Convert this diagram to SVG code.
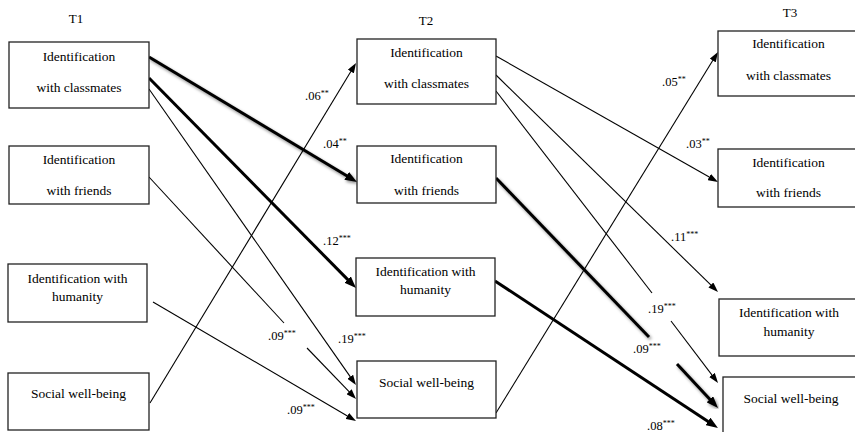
<svg xmlns="http://www.w3.org/2000/svg" width="855" height="432" viewBox="0 0 855 432">
<style>
  text { font-family: "Liberation Serif", "Times New Roman", serif; fill: #000; }
  .nt { font-size: 13.5px; text-anchor: middle; }
  .tl { font-size: 13px; text-anchor: middle; }
  .lb { font-size: 12.5px; }
  .sup { font-size: 8px; }
  .box { fill: #fff; stroke: #222; stroke-width: 1.3; }
  .thin { stroke: #000; stroke-width: 1.1; fill: none; }
  .thick { stroke: #000; stroke-width: 3; fill: none; }
  .ta { marker-end: url(#ah); }
  .ka { marker-end: url(#ahk); }
  .sh { filter: url(#shadow); }
</style>
<defs>
  <marker id="ah" markerUnits="userSpaceOnUse" markerWidth="10" markerHeight="7" refX="2" refY="3.5" orient="auto">
    <path d="M0,0 L10,3.5 L0,7 z" fill="#000"/>
  </marker>
  <marker id="ahk" markerUnits="userSpaceOnUse" markerWidth="12" markerHeight="9" refX="2" refY="4.5" orient="auto">
    <path d="M0,0 L12,4.5 L0,9 z" fill="#000"/>
  </marker>
  <filter id="shadow" x="-10%" y="-10%" width="130%" height="130%">
    <feDropShadow dx="1.5" dy="2" stdDeviation="1.4" flood-color="#000" flood-opacity="0.45"/>
  </filter>
</defs>
<rect width="855" height="432" fill="#fff"/>

<g id="time-labels">
  <text class="tl" x="76" y="23">T1</text>
  <text class="tl" x="426" y="25">T2</text>
  <text class="tl" x="790" y="17">T3</text>
</g>

<g id="connectors">
  <!-- T1 -> T2 -->
  <line class="thick ka sh" x1="149" y1="57" x2="348.4" y2="176.8"/>
  <line class="thick ka" x1="149" y1="78" x2="349" y2="280.9"/>
  <line class="thin ta" x1="149" y1="89" x2="351.4" y2="378.4"/>
  <line class="thin" x1="149" y1="177" x2="284" y2="323"/>
  <line class="thin ta" x1="307" y1="348" x2="350.5" y2="393.2"/>
  <line class="thin ta" x1="153" y1="302" x2="349.1" y2="417"/>
  <line class="thin ta" x1="150" y1="403" x2="351.9" y2="69.8"/>
  <!-- T2 -> T3 -->
  <line class="thin ta" x1="496" y1="56" x2="711" y2="178"/>
  <line class="thin ta" x1="496" y1="75" x2="712.3" y2="286.4"/>
  <line class="thin" x1="496" y1="91" x2="652" y2="293"/>
  <line class="thin ta" x1="671" y1="321" x2="713.2" y2="376.6"/>
  <line class="thick sh" x1="496" y1="178" x2="649" y2="337"/>
  <line class="thick ka sh" x1="677" y1="364" x2="711.2" y2="400.7"/>
  <line class="thick ka" x1="495" y1="281" x2="709.6" y2="422.5"/>
  <line class="thin ta" x1="496" y1="413" x2="713.8" y2="58.8"/>
</g>

<g id="coef-labels">
  <text class="lb" x="305" y="100">.06<tspan class="sup" dy="-4">**</tspan></text>
  <text class="lb" x="323" y="148">.04<tspan class="sup" dy="-4">**</tspan></text>
  <text class="lb" x="323" y="245">.12<tspan class="sup" dy="-4">***</tspan></text>
  <text class="lb" x="338" y="343">.19<tspan class="sup" dy="-4">***</tspan></text>
  <text class="lb" x="268" y="340">.09<tspan class="sup" dy="-4">***</tspan></text>
  <text class="lb" x="287" y="414">.09<tspan class="sup" dy="-4">***</tspan></text>
  <text class="lb" x="662" y="86">.05<tspan class="sup" dy="-4">**</tspan></text>
  <text class="lb" x="686" y="148">.03<tspan class="sup" dy="-4">**</tspan></text>
  <text class="lb" x="671" y="241">.11<tspan class="sup" dy="-4">***</tspan></text>
  <text class="lb" x="648" y="313">.19<tspan class="sup" dy="-4">***</tspan></text>
  <text class="lb" x="633" y="353">.09<tspan class="sup" dy="-4">***</tspan></text>
  <text class="lb" x="647" y="430">.08<tspan class="sup" dy="-4">***</tspan></text>
</g>

<g id="t1-classmates">
  <rect class="box" x="9" y="42" width="140" height="66"/>
  <text class="nt" x="79" y="61">Identification</text>
  <text class="nt" x="79" y="92">with classmates</text>
</g>
<g id="t1-friends">
  <rect class="box" x="9" y="146" width="140" height="58"/>
  <text class="nt" x="79" y="164">Identification</text>
  <text class="nt" x="79" y="195">with friends</text>
</g>
<g id="t1-humanity">
  <rect class="box" x="8" y="264" width="139" height="58"/>
  <text class="nt" x="77.5" y="283">Identification with</text>
  <text class="nt" x="77.5" y="301">humanity</text>
</g>
<g id="t1-wellbeing">
  <rect class="box" x="8" y="373" width="141" height="57"/>
  <text class="nt" x="78.5" y="398">Social well-being</text>
</g>

<g id="t2-classmates">
  <rect class="box" x="357" y="39" width="139" height="65"/>
  <text class="nt" x="426.5" y="57">Identification</text>
  <text class="nt" x="426.5" y="88">with classmates</text>
</g>
<g id="t2-friends">
  <rect class="box" x="357" y="146" width="139" height="57"/>
  <text class="nt" x="426.5" y="163">Identification</text>
  <text class="nt" x="426.5" y="195">with friends</text>
</g>
<g id="t2-humanity">
  <rect class="box" x="356" y="258" width="139" height="58"/>
  <text class="nt" x="425.5" y="276">Identification with</text>
  <text class="nt" x="425.5" y="294">humanity</text>
</g>
<g id="t2-wellbeing">
  <rect class="box" x="357" y="361" width="139" height="57"/>
  <text class="nt" x="426.5" y="387">Social well-being</text>
</g>

<g id="t3-classmates">
  <rect class="box" x="718" y="31" width="141" height="65"/>
  <text class="nt" x="788.5" y="48">Identification</text>
  <text class="nt" x="788.5" y="80">with classmates</text>
</g>
<g id="t3-friends">
  <rect class="box" x="718" y="149" width="141" height="58"/>
  <text class="nt" x="788.5" y="167">Identification</text>
  <text class="nt" x="788.5" y="197">with friends</text>
</g>
<g id="t3-humanity">
  <rect class="box" x="719" y="299" width="140" height="57"/>
  <text class="nt" x="789" y="317">Identification with</text>
  <text class="nt" x="789" y="336">humanity</text>
</g>
<g id="t3-wellbeing">
  <rect class="box" x="723" y="377" width="136" height="62"/>
  <text class="nt" x="791" y="403">Social well-being</text>
</g>
</svg>
